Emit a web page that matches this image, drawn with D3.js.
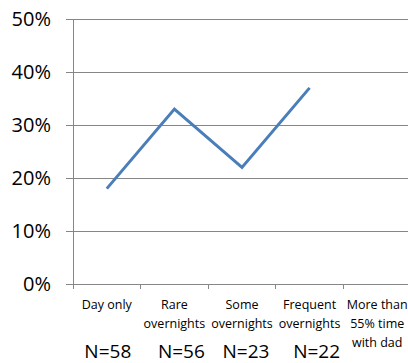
<!DOCTYPE html>
<html>
<head>
<meta charset="utf-8">
<script src="https://cdn.jsdelivr.net/npm/d3@7"></script>
<style>
  html, body { margin: 0; padding: 0; background: #ffffff; }
  svg { display: block; font-family: "Open Sans", "DejaVu Sans", sans-serif; }
</style>
</head>
<body>
<svg id="chart" width="408" height="363"></svg>
<script>
// Arrangement categories (multi-line labels) and share in each group
const categories = [
  ["Day only"],
  ["Rare", "overnights"],
  ["Some", "overnights"],
  ["Frequent", "overnights"],
  ["More than", "55% time", "with dad"]
];
const values = [0.18, 0.33, 0.22, 0.37, null];
const sampleSizes = ["N=58", "N=56", "N=23", "N=22"];
const yTicks = [0, 0.1, 0.2, 0.3, 0.4, 0.5];

const svg = d3.select("#chart");
const plot = { left: 73, right: 411, top: 19, bottom: 284 };
const gridColor = "#868686";

const x = d3.scaleBand()
  .domain(d3.range(categories.length))
  .range([plot.left, plot.right]);

const y = d3.scaleLinear()
  .domain([0, 0.5])
  .range([plot.bottom, plot.top]);

// Horizontal gridlines with percent labels
const yAxis = d3.axisLeft(y)
  .tickValues(yTicks)
  .tickFormat(d3.format(".0%"))
  .tickSize(-(408 - plot.left))
  .tickPadding(22);

const gy = svg.append("g")
  .attr("transform", `translate(${plot.left},0)`)
  .call(yAxis);
gy.select(".domain").remove();
gy.selectAll(".tick line")
  .attr("x1", -7)
  .attr("stroke", gridColor)
  .attr("stroke-width", 1)
  .attr("shape-rendering", "crispEdges");
gy.selectAll(".tick text")
  .attr("font-size", 20)
  .attr("fill", "#000")
  .attr("font-family", "'Open Sans', sans-serif");

// Vertical value axis line
svg.append("line")
  .attr("x1", plot.left).attr("x2", plot.left)
  .attr("y1", plot.top).attr("y2", plot.bottom + 5)
  .attr("stroke", gridColor)
  .attr("shape-rendering", "crispEdges");

// Category axis with tick marks between groups
const boundaries = d3.range(categories.length + 1).map(i => plot.left + i * x.bandwidth());
svg.append("line")
  .attr("x1", plot.left).attr("x2", 408)
  .attr("y1", plot.bottom).attr("y2", plot.bottom)
  .attr("stroke", gridColor)
  .attr("shape-rendering", "crispEdges");
svg.append("g")
  .selectAll("line")
  .data(boundaries.slice(1))
  .join("line")
  .attr("x1", d => d).attr("x2", d => d)
  .attr("y1", plot.bottom).attr("y2", plot.bottom + 5)
  .attr("stroke", gridColor)
  .attr("shape-rendering", "crispEdges");

// Category labels
const catLabels = svg.append("g")
  .selectAll("text")
  .data(categories)
  .join("text")
  .attr("text-anchor", "middle")
  .attr("font-size", 12.5)
  .attr("fill", "#000")
  .attr("x", (d, i) => x(i) + x.bandwidth() / 2)
  .attr("y", 309);
catLabels.selectAll("tspan")
  .data(d => d)
  .join("tspan")
  .attr("x", function () { return d3.select(this.parentNode).attr("x"); })
  .attr("dy", (d, i) => i === 0 ? 0 : 19)
  .text(d => d);

// Series line
const line = d3.line()
  .defined(d => d != null)
  .x((d, i) => x(i) + x.bandwidth() / 2)
  .y(d => y(d));

svg.append("path")
  .datum(values)
  .attr("d", line)
  .attr("fill", "none")
  .attr("stroke", "#4a7ebb")
  .attr("stroke-width", 3)
  .attr("stroke-linejoin", "miter");

// Sample sizes under each group
svg.append("g")
  .selectAll("text")
  .data(sampleSizes)
  .join("text")
  .attr("text-anchor", "middle")
  .attr("font-size", 19)
  .attr("fill", "#000")
  .attr("x", (d, i) => x(i) + x.bandwidth() / 2 + [1, 7, 4, 7][i])
  .attr("y", 358)
  .text(d => d);
</script>
</body>
</html>
